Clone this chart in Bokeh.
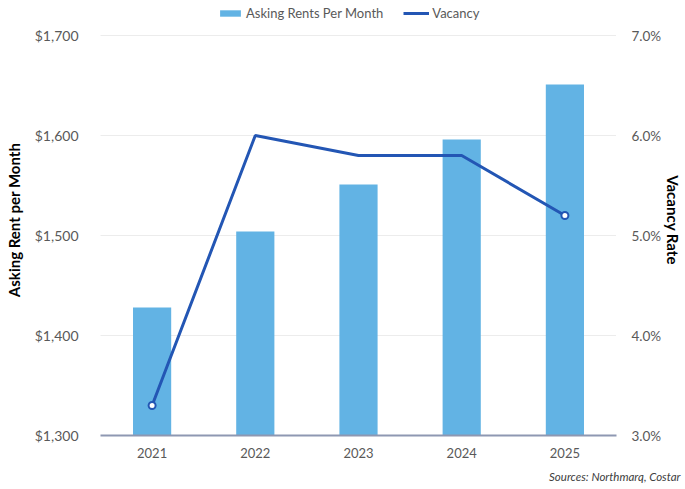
from bokeh.plotting import figure
from bokeh.models import (Range1d, LinearAxis, FixedTicker, NumeralTickFormatter,
                          PrintfTickFormatter, Legend, LegendItem, Title, ColumnDataSource)
from bokeh.embed import file_html
from bokeh.resources import INLINE

years = ["2021", "2022", "2023", "2024", "2025"]
rents = [1428, 1504, 1551, 1596, 1651]
vacancy = [3.3, 6.0, 5.8, 5.8, 5.2]
marked_years = ["2021", "2025"]
rent_ticks = [1300, 1400, 1500, 1600, 1700]
vac_ticks = [3.0, 4.0, 5.0, 6.0, 7.0]

FONT = "Lato"
BAR = "#62B3E4"
LINE = "#2356B4"
TICK = "#595959"

# frame extends above the top tick to leave room for the legend inside it
p = figure(width=685, height=489, x_range=years, y_range=Range1d(1300, 1731),
           output_backend="svg", toolbar_location=None,
           min_border_left=100, min_border_right=66, min_border_top=4, min_border_bottom=53)
p.outline_line_color = None
p.background_fill_color = "white"
p.title = None

p.extra_y_ranges = {"vac": Range1d(3, 7.31)}

src = ColumnDataSource(dict(x=years, rent=rents, vac=vacancy))
bars = p.vbar(x="x", top="rent", bottom=1300, width=0.37, source=src,
              fill_color=BAR, line_color=None)
line = p.line(x="x", y="vac", source=src, y_range_name="vac",
              line_color=LINE, line_width=3)
mk_idx = [years.index(y) for y in marked_years]
p.scatter(x=[years[i] for i in mk_idx], y=[vacancy[i] for i in mk_idx],
          y_range_name="vac", size=7, fill_color="white", line_color=LINE, line_width=2)

# left axis
la = p.yaxis[0]
la.ticker = FixedTicker(ticks=rent_ticks)
la.formatter = NumeralTickFormatter(format="$0,0")
la.axis_line_color = None
la.major_tick_line_color = None
la.minor_tick_line_color = None
la.major_label_text_font = FONT
la.major_label_text_font_size = "14px"
la.major_label_text_color = TICK
la.major_label_standoff = 16
la.axis_label = "Asking Rent per Month"
la.axis_label_text_font = FONT
la.axis_label_text_font_style = "bold"
la.axis_label_text_font_size = "15px"
la.axis_label_text_color = "black"
la.axis_label_standoff = 9

ra = LinearAxis(y_range_name="vac", ticker=FixedTicker(ticks=vac_ticks),
                formatter=PrintfTickFormatter(format="%.1f%%"))
ra.axis_line_color = None
ra.major_tick_line_color = None
ra.minor_tick_line_color = None
ra.major_label_text_font = FONT
ra.major_label_text_font_size = "13.5px"
ra.major_label_text_color = TICK
ra.major_label_standoff = 9
ra.axis_label = "Vacancy Rate"
ra.axis_label_text_font = FONT
ra.axis_label_text_font_style = "bold"
ra.axis_label_text_font_size = "15px"
ra.axis_label_text_color = "black"
ra.axis_label_standoff = 0
p.add_layout(ra, "right")

xa = p.xaxis[0]
xa.axis_line_color = "#8E98B2"
xa.axis_line_width = 2
xa.major_tick_line_color = None
xa.minor_tick_line_color = None
xa.major_label_text_font = FONT
xa.major_label_text_font_size = "13px"
xa.major_label_text_color = TICK
xa.major_label_standoff = 6

p.xgrid.grid_line_color = None
p.ygrid.ticker = FixedTicker(ticks=rent_ticks)
p.ygrid.grid_line_color = "#D9D9D9"
p.ygrid.grid_line_dash = "1 1"
p.ygrid.grid_line_width = 1

legend = Legend(items=[LegendItem(label="Asking Rents Per Month", renderers=[bars]),
                       LegendItem(label="Vacancy", renderers=[line])],
                orientation="horizontal", location=(117, 414),
                border_line_color=None, background_fill_alpha=0,
                label_text_font=FONT, label_text_font_size="13px",
                label_text_color=TICK, glyph_width=26, glyph_height=8,
                label_height=14, label_standoff=3, spacing=20, padding=0, margin=0)
p.add_layout(legend, "center")

src_title = Title(text="Sources: Northmarq, Costar", align="right",
                  text_font=FONT, text_font_style="italic", text_font_size="11.5px",
                  text_color="#404040", offset=-64, standoff=14)
p.add_layout(src_title, "below")

open("out.html", "w").write(file_html(p, INLINE))
